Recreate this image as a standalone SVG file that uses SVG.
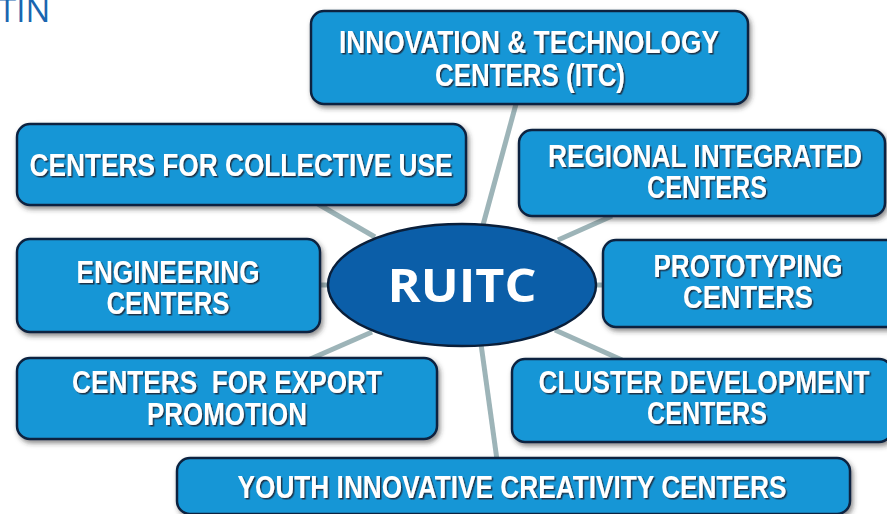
<svg xmlns="http://www.w3.org/2000/svg" width="887" height="514" viewBox="0 0 887 514">
<defs>
<filter id="bs" x="-10%" y="-20%" width="120%" height="150%"><feDropShadow dx="2" dy="3" stdDeviation="2.5" flood-color="#333" flood-opacity="0.55"/></filter>
<filter id="ts" x="-5%" y="-20%" width="110%" height="150%"><feDropShadow dx="1.5" dy="1.5" stdDeviation="0.7" flood-color="#1a2a3a" flood-opacity="0.9"/></filter>
</defs>
<style>
.box{fill:#1796d6;stroke:#0b2440;stroke-width:2.5;filter:url(#bs)}
.t{font-family:"Liberation Sans",Arial,sans-serif;font-weight:bold;font-size:31px;fill:#fff;text-anchor:middle;filter:url(#ts)}
.c{stroke:#9db4b8;stroke-width:5;fill:none}
</style>
<rect width="887" height="514" fill="#fff"/>
<text x="-2" y="22" font-family="Open Sans, sans-serif" font-size="33" fill="#1a66b0">TIN</text>
<g id="connectors">
<line class="c" x1="516" y1="104" x2="483" y2="225"/>
<line class="c" x1="318" y1="204" x2="375" y2="237"/>
<line class="c" x1="612" y1="216" x2="558" y2="240"/>
<line class="c" x1="592" y1="285" x2="606" y2="285"/>
<line class="c" x1="316" y1="285" x2="332" y2="285"/>
<line class="c" x1="308" y1="360" x2="372" y2="332"/>
<line class="c" x1="555" y1="330" x2="622" y2="360"/>
<line class="c" x1="481" y1="344" x2="497" y2="460"/>
</g>
<g id="itc"><rect class="box" x="311" y="11" width="437" height="93" rx="13"/>
<text class="t" x="529" y="53" textLength="380" lengthAdjust="spacingAndGlyphs">INNOVATION &amp; TECHNOLOGY</text>
<text class="t" x="530" y="86" textLength="190" lengthAdjust="spacingAndGlyphs">CENTERS (ITC)</text></g>
<g id="collective"><rect class="box" x="17" y="124" width="449" height="81" rx="13"/>
<text class="t" x="241" y="176" textLength="423" lengthAdjust="spacingAndGlyphs">CENTERS FOR COLLECTIVE USE</text></g>
<g id="regional"><rect class="box" x="519" y="130" width="366" height="86" rx="13"/>
<text class="t" x="705" y="167" textLength="314" lengthAdjust="spacingAndGlyphs">REGIONAL INTEGRATED</text>
<text class="t" x="707" y="198" textLength="120" lengthAdjust="spacingAndGlyphs">CENTERS</text></g>
<g id="engineering"><rect class="box" x="17" y="239" width="303" height="93" rx="13"/>
<text class="t" x="168" y="283" textLength="183" lengthAdjust="spacingAndGlyphs">ENGINEERING</text>
<text class="t" x="168" y="314" textLength="123" lengthAdjust="spacingAndGlyphs">CENTERS</text></g>
<g id="prototyping"><rect class="box" x="603" y="240" width="300" height="87" rx="13"/>
<text class="t" x="748" y="277" textLength="189" lengthAdjust="spacingAndGlyphs">PROTOTYPING</text>
<text class="t" x="748" y="308" textLength="130" lengthAdjust="spacingAndGlyphs">CENTERS</text></g>
<g id="export"><rect class="box" x="17" y="358" width="420" height="81" rx="13"/>
<text class="t" x="227" y="393" textLength="310" lengthAdjust="spacingAndGlyphs" xml:space="preserve">CENTERS  FOR EXPORT</text>
<text class="t" x="227" y="425" textLength="160" lengthAdjust="spacingAndGlyphs">PROMOTION</text></g>
<g id="cluster"><rect class="box" x="512" y="359" width="380" height="83" rx="13"/>
<text class="t" x="704" y="393" textLength="331" lengthAdjust="spacingAndGlyphs">CLUSTER DEVELOPMENT</text>
<text class="t" x="707" y="424" textLength="120" lengthAdjust="spacingAndGlyphs">CENTERS</text></g>
<g id="youth"><rect class="box" x="177" y="458" width="673" height="56" rx="13"/>
<text class="t" x="512" y="498" textLength="549" lengthAdjust="spacingAndGlyphs">YOUTH INNOVATIVE CREATIVITY CENTERS</text></g>
<g id="ruitc"><ellipse cx="462" cy="285" rx="134" ry="61" fill="#0b5ea8" stroke="#0a1f3a" stroke-width="2.5"/>
<text x="462" y="302" font-family="Open Sans, sans-serif" font-weight="bold" font-size="46" fill="#fff" text-anchor="middle" textLength="149" lengthAdjust="spacingAndGlyphs">RUITC</text></g>
</svg>
